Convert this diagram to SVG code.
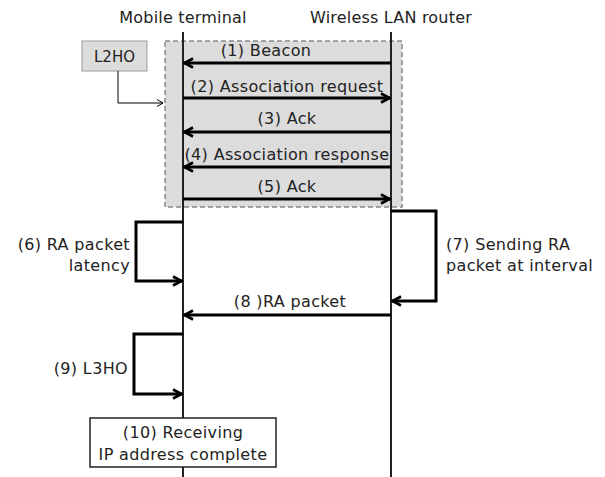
<svg xmlns="http://www.w3.org/2000/svg" width="605" height="477" viewBox="0 0 605 477">
  <style>
    text { font-family: "DejaVu Sans", Verdana, sans-serif; font-size: 16px; letter-spacing: 0.35px; fill: #222; }
    .mid { text-anchor: middle; }
    .end { text-anchor: end; }
    .life { stroke: #222; stroke-width: 2; fill: none; }
    .msg { stroke: #000; stroke-width: 3; fill: none; }
    .thin { stroke: #000; stroke-width: 1; fill: none; }
  </style>
  <defs>
    <marker id="head" viewBox="0 0 12 12" refX="11" refY="6" markerWidth="12" markerHeight="12" markerUnits="userSpaceOnUse" orient="auto">
      <polyline points="2,1.5 10.5,6 2,10.5" fill="none" stroke="#000" stroke-width="2.6"/>
    </marker>
    <marker id="thinhead" viewBox="0 0 10 10" refX="9" refY="5" markerWidth="10" markerHeight="10" markerUnits="userSpaceOnUse" orient="auto">
      <polyline points="3,1.5 9,5 3,8.5" fill="none" stroke="#000" stroke-width="1"/>
    </marker>
  </defs>

  <rect width="605" height="477" fill="#fff"/>

  <!-- L2 handover region -->
  <g id="l2ho-region">
    <rect x="165" y="41" width="237" height="166" fill="#dcdcdc" stroke="#888" stroke-width="1.5" stroke-dasharray="5,3"/>
  </g>

  <!-- lifelines -->
  <g id="mobile-terminal">
    <text class="mid" x="183" y="23" style="letter-spacing:0.2px">Mobile terminal</text>
    <line class="life" x1="183" y1="32" x2="183" y2="477"/>
  </g>
  <g id="wlan-router">
    <text class="mid" x="391" y="23" style="letter-spacing:0.2px">Wireless LAN router</text>
    <line class="life" x1="391" y1="32" x2="391" y2="477"/>
  </g>

  <g id="l2ho">
    <rect x="82" y="41" width="65" height="30" fill="#dcdcdc" stroke="#999" stroke-width="1"/>
    <text class="mid" x="114.5" y="62" style="font-size:15px;letter-spacing:0">L2HO</text>
  </g>

  <g id="ip-complete">
    <rect x="90" y="418" width="186" height="49" fill="#fff" stroke="#222" stroke-width="1.5"/>
    <text class="mid" x="183" y="438">(10) Receiving</text>
    <text class="mid" x="183" y="460">IP address complete</text>
  </g>

  <!-- messages and connectors -->
  <g id="connectors">
    <polyline class="thin" points="118,71 118,103 163,103" marker-end="url(#thinhead)"/>

    <line class="msg" x1="391" y1="63" x2="184" y2="63" marker-end="url(#head)"/>
    <line class="msg" x1="183" y1="98" x2="390" y2="98" marker-end="url(#head)"/>
    <line class="msg" x1="391" y1="132" x2="184" y2="132" marker-end="url(#head)"/>
    <line class="msg" x1="391" y1="167" x2="184" y2="167" marker-end="url(#head)"/>
    <line class="msg" x1="183" y1="199" x2="390" y2="199" marker-end="url(#head)"/>

    <polyline class="msg" points="183,222 136,222 136,281 182,281" marker-end="url(#head)"/>
    <polyline class="msg" points="391,211 436,211 436,301 392,301" marker-end="url(#head)"/>
    <line class="msg" x1="391" y1="315" x2="184" y2="315" marker-end="url(#head)"/>
    <polyline class="msg" points="183,334 134,334 134,394 182,394" marker-end="url(#head)"/>
  </g>

  <g id="labels">
    <text class="mid" x="266" y="56">(1) Beacon</text>
    <text class="mid" x="287" y="92">(2) Association request</text>
    <text class="mid" x="287" y="124">(3) Ack</text>
    <text class="mid" x="287" y="160">(4) Association response</text>
    <text class="mid" x="287" y="192">(5) Ack</text>
    <text class="end" x="130" y="250">(6) RA packet</text>
    <text class="end" x="130" y="271">latency</text>
    <text x="446" y="250">(7) Sending RA</text>
    <text x="446" y="271">packet at interval</text>
    <text class="mid" x="290" y="307">(8 )RA packet</text>
    <text class="end" x="128" y="374">(9) L3HO</text>
  </g>
</svg>
